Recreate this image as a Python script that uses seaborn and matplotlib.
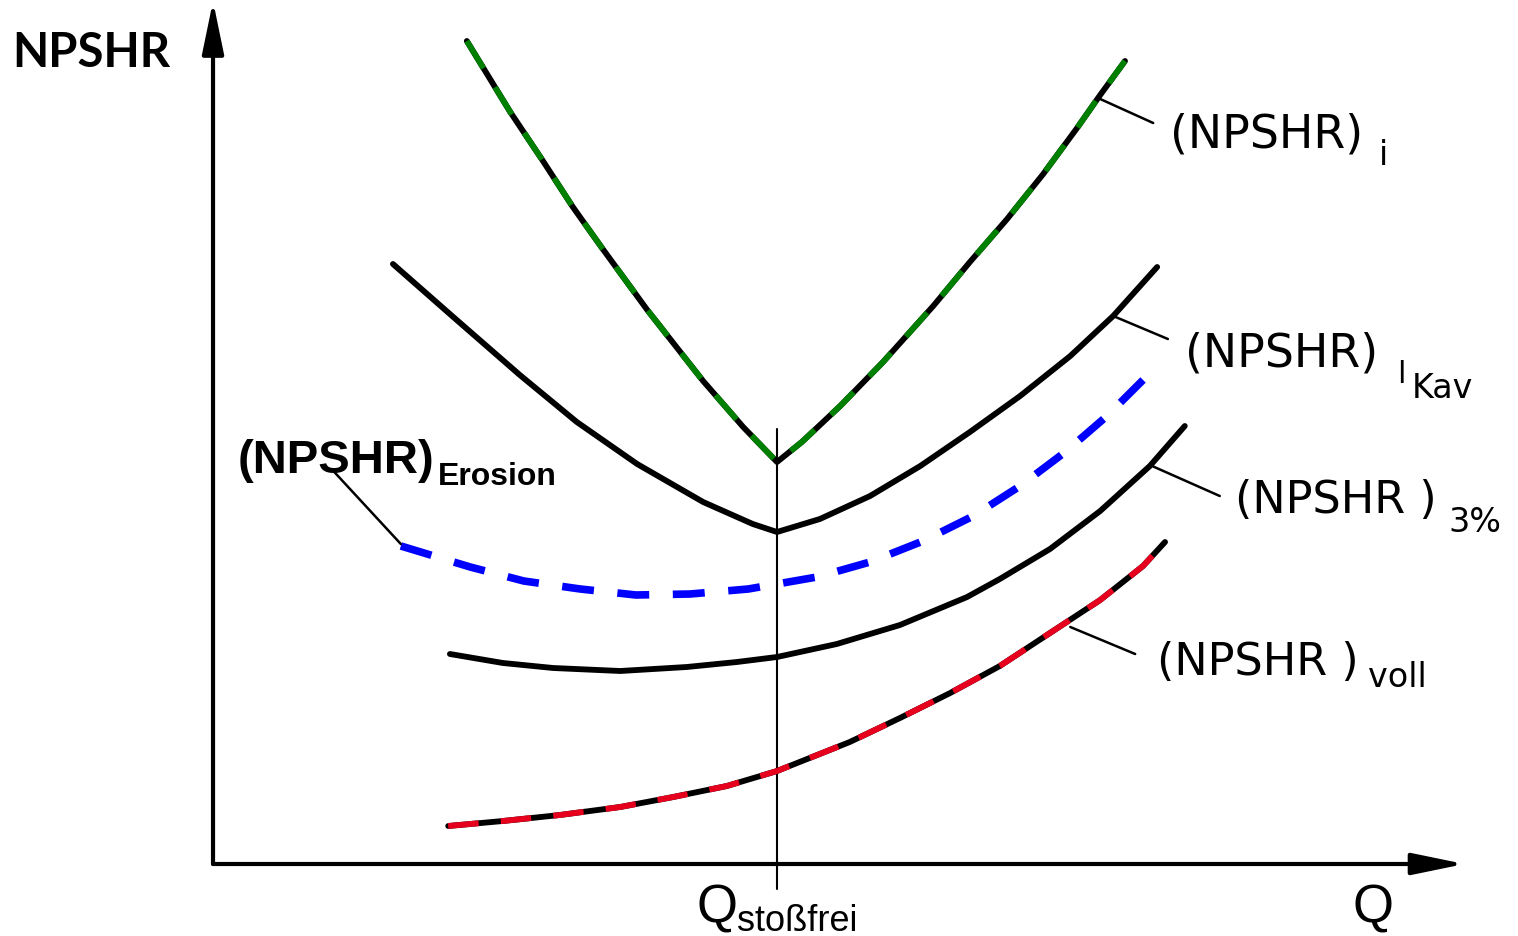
import matplotlib
matplotlib.use("Agg")
import matplotlib.pyplot as plt
import seaborn as sns

# Q relative to Q_stossfrei (=1), NPSHR in arbitrary units
q_i = [0.450, 0.527, 0.585, 0.638, 0.691, 0.770, 0.869, 0.940, 1.000,
       1.044, 1.112, 1.188, 1.277, 1.342, 1.408, 1.472, 1.532, 1.573, 1.617]
h_i = [8.23, 7.52, 7.03, 6.57, 6.15, 5.54, 4.83, 4.37, 4.02,
       4.22, 4.58, 5.02, 5.58, 6.02, 6.45, 6.90, 7.36, 7.69, 8.03]

q_kav = [0.319, 0.426, 0.544, 0.645, 0.752, 0.869, 0.957, 1.000,
         1.076, 1.165, 1.254, 1.342, 1.431, 1.520, 1.596, 1.674]
h_kav = [6.00, 5.47, 4.89, 4.42, 4.00, 3.62, 3.40, 3.32,
         3.45, 3.68, 3.98, 4.32, 4.68, 5.08, 5.48, 5.97]

q_ero = [0.333, 0.456, 0.551, 0.651, 0.750, 0.846, 0.949, 1.071,
         1.165, 1.259, 1.348, 1.431, 1.511, 1.585, 1.656]
h_ero = [3.18, 2.97, 2.83, 2.75, 2.69, 2.70, 2.75, 2.87,
         3.02, 3.23, 3.48, 3.78, 4.12, 4.48, 4.88]

q_3 = [0.420, 0.514, 0.603, 0.722, 0.840, 0.929, 1.000, 1.106,
       1.218, 1.337, 1.395, 1.484, 1.573, 1.661, 1.723]
h_3 = [2.10, 2.01, 1.96, 1.93, 1.97, 2.02, 2.07, 2.20,
       2.39, 2.67, 2.85, 3.15, 3.53, 3.98, 4.38]

q_voll = [0.417, 0.514, 0.615, 0.722, 0.816, 0.911, 1.000, 1.129,
          1.218, 1.307, 1.395, 1.484, 1.573, 1.649, 1.688]
h_voll = [0.38, 0.43, 0.49, 0.57, 0.67, 0.78, 0.93, 1.22,
          1.46, 1.71, 1.98, 2.31, 2.64, 2.98, 3.22]

sns.set_theme(style="white")
plt.rcParams['font.family'] = ['DejaVu Sans']
plt.rcParams['text.color'] = 'black'
plt.rcParams['lines.scale_dashes'] = False

fig = plt.figure(figsize=(15.18, 9.37), dpi=100)
ax = fig.add_axes([0, 0, 1, 1])
ax.set_xlim(-0.3777, 2.3138)
ax.set_ylim(-0.72, 8.65)
ax.axis('off')

# axes with arrows
arrow = dict(arrowstyle="-|>,head_length=1.6,head_width=0.33", lw=3,
             color='black', shrinkA=0, shrinkB=0, mutation_scale=20)
ax.annotate("", xy=(0, 8.63), xytext=(0, 0), arrowprops=arrow)
ax.annotate("", xy=(2.219, 0), xytext=(0, 0), arrowprops=arrow)

# Q_stossfrei line
ax.plot([1, 1], [-0.25, 4.35], color='black', lw=1.5)

lw = 4.2
# (NPSHR)i : black with green dashes
sns.lineplot(x=q_i, y=h_i, ax=ax, color='black', lw=lw, sort=False,
             estimator=None, solid_capstyle='round')
sns.lineplot(x=q_i, y=h_i, ax=ax, color='#008000', lw=lw, sort=False,
             estimator=None, linestyle=(0, (23, 16)))
# (NPSHR)lKav
sns.lineplot(x=q_kav, y=h_kav, ax=ax, color='black', lw=lw, sort=False,
             estimator=None, solid_capstyle='round')
# Erosion, blue dashed
sns.lineplot(x=q_ero, y=h_ero, ax=ax, color='#0000ff', lw=5.5, sort=False,
             estimator=None, linestyle=(0, (23, 17)))
# 3%
sns.lineplot(x=q_3, y=h_3, ax=ax, color='black', lw=lw, sort=False,
             estimator=None, solid_capstyle='round')
# voll : black with red dashes
sns.lineplot(x=q_voll, y=h_voll, ax=ax, color='black', lw=lw, sort=False,
             estimator=None, solid_capstyle='round')
sns.lineplot(x=q_voll, y=h_voll, ax=ax, color='#e6001e', lw=lw, sort=False,
             estimator=None, linestyle=(0, (22, 16)))

# leader lines
lead = dict(color='black', lw=1.8)
ax.plot([1.573, 1.667], [7.65, 7.41], **lead)
ax.plot([1.596, 1.693], [5.48, 5.25], **lead)
ax.plot([1.665, 1.785], [3.98, 3.68], **lead)
ax.plot([1.520, 1.635], [2.37, 2.10], **lead)
ax.plot([0.333, 0.215], [3.20, 3.92], **lead)

# labels
ax.text(-0.356, 7.98, "NPSHR", fontsize=34, fontweight='bold',
        family=['Lato', 'DejaVu Sans'], va='baseline', ha='left')
ax.text(1.697, 7.18, "(NPSHR)", fontsize=33, va='baseline')
ax.text(2.068, 7.00, "i", fontsize=24, va='baseline')
ax.text(1.723, 4.98, "(NPSHR)", fontsize=33, va='baseline')
ax.text(2.100, 4.82, "l", fontsize=22, va='baseline')
ax.text(2.125, 4.67, "Kav", fontsize=24, va='baseline')
ax.text(1.812, 3.52, "(NPSHR )", fontsize=32, va='baseline')
ax.text(2.190, 3.33, "3%", fontsize=24, va='baseline')
ax.text(1.674, 1.90, "(NPSHR )", fontsize=32, va='baseline')
ax.text(2.048, 1.78, "voll", fontsize=24, va='baseline')

arial = ['Liberation Sans']
ax.text(0.043, 3.92, "(NPSHR)", fontsize=34, fontweight='bold',
        family=arial, va='baseline')
ax.text(0.399, 3.80, "Erosion", fontsize=23, fontweight='bold',
        family=arial, va='baseline')
ax.text(2.020, -0.58, "Q", fontsize=38, family=arial, va='baseline')
ax.text(0.858, -0.58, "Q", fontsize=38, family=arial, va='baseline')
ax.text(0.929, -0.665, "stoßfrei", fontsize=26, family=arial, va='baseline')

fig.savefig("out.png", dpi=100)
